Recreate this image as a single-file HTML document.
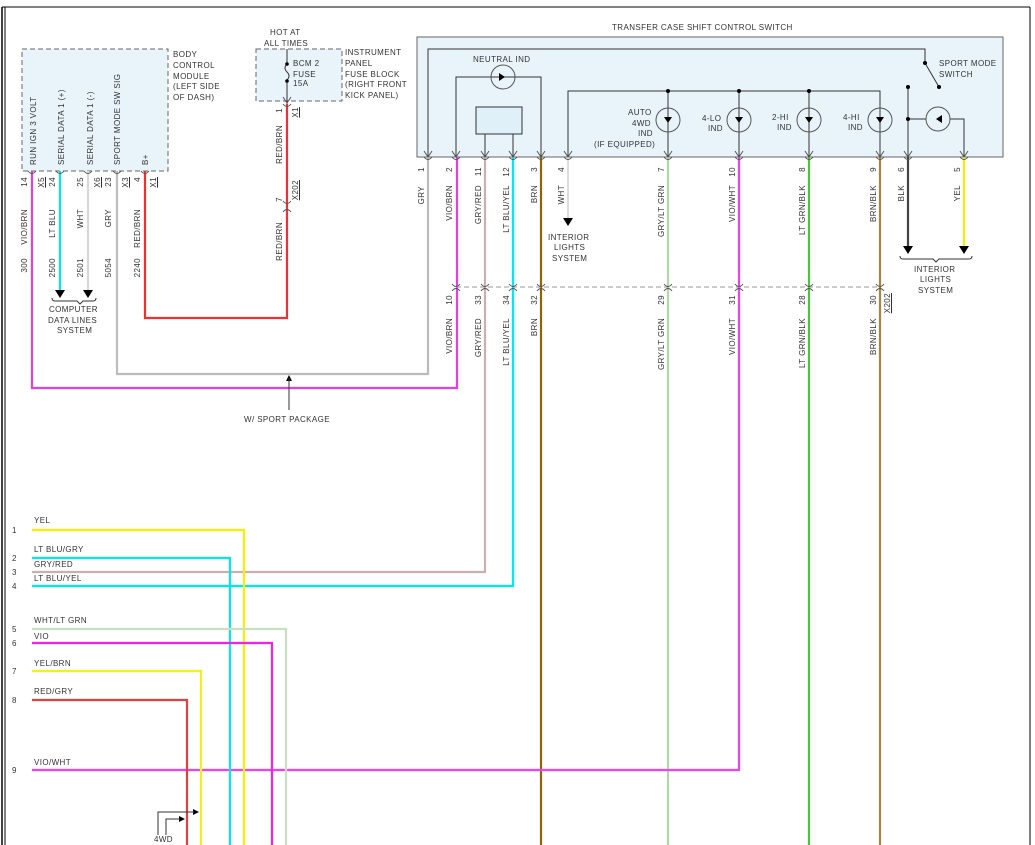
<!DOCTYPE html>
<html><head><meta charset="utf-8"><style>
html,body{margin:0;padding:0;background:#fff;}
svg{display:block;font-family:"Liberation Sans",sans-serif;}
text{fill:#333;font-size:8px;letter-spacing:0.4px;}
</style></head><body>
<svg width="1035" height="845" viewBox="0 0 1035 845" xmlns="http://www.w3.org/2000/svg">
<defs>
<marker id="ar" markerWidth="8" markerHeight="8" refX="4" refY="7" orient="auto" markerUnits="userSpaceOnUse"><path d="M0,0 L8,0 L4,8 z" fill="#000" transform="rotate(-90 4 4)"/></marker>
</defs>
<!-- border -->
<line x1="2" y1="7" x2="2" y2="845" stroke="#000" stroke-width="1.5"/>
<line x1="5" y1="7" x2="5" y2="845" stroke="#000" stroke-width="1"/>
<line x1="2" y1="7" x2="1030" y2="7" stroke="#000" stroke-width="1"/>
<line x1="1030" y1="7" x2="1030" y2="845" stroke="#000" stroke-width="1"/>

<!-- BCM box -->
<rect x="22" y="49" width="146" height="122" fill="#e8f4fa" stroke="#666" stroke-dasharray="5,3"/>
<text x="173" y="57">BODY</text><text x="173" y="68">CONTROL</text><text x="173" y="79">MODULE</text><text x="173" y="89">(LEFT SIDE</text><text x="173" y="100">OF DASH)</text>
<g text-anchor="start">
<text transform="translate(36,165) rotate(-90)">RUN IGN 3 VOLT</text>
<text transform="translate(64,165) rotate(-90)">SERIAL DATA 1 (+)</text>
<text transform="translate(93,165) rotate(-90)">SERIAL DATA 1 (-)</text>
<text transform="translate(120,165) rotate(-90)">SPORT MODE SW SIG</text>
<text transform="translate(148,165) rotate(-90)">B+</text>
</g>
<!-- Fuse box -->
<text x="270" y="35">HOT AT</text><text x="264" y="46">ALL TIMES</text>
<rect x="256" y="49" width="86" height="52" fill="#e8f4fa" stroke="#666" stroke-dasharray="5,3"/>
<text x="345" y="55">INSTRUMENT</text><text x="345" y="66">PANEL</text><text x="345" y="77">FUSE BLOCK</text><text x="345" y="87">(RIGHT FRONT</text><text x="345" y="98">KICK PANEL)</text>
<text x="293" y="66">BCM 2</text><text x="293" y="77">FUSE</text><text x="293" y="86">15A</text>
<line x1="287" y1="49" x2="287" y2="64" stroke="#333"/>
<path d="M287,64 q-4,4 0,8 q4,4 0,8" fill="none" stroke="#333"/>
<line x1="287" y1="80" x2="287" y2="104" stroke="#333"/>
<circle cx="287" cy="64" r="1.8" fill="#000"/><circle cx="287" cy="81" r="1.8" fill="#000"/>

<!-- TCSC box -->
<text x="612" y="30">TRANSFER CASE SHIFT CONTROL SWITCH</text>
<rect x="417" y="37" width="586" height="120" fill="#e8f4fa" stroke="#666"/>
<g stroke="#333" fill="none" stroke-width="1">
<polyline points="428,157 428,49 925,49 925,63"/>
<line x1="925" y1="63" x2="939" y2="87"/>
<polyline points="456,157 456,77 541,77 541,157"/>
<circle cx="503" cy="77" r="12" stroke="#555"/>
<rect x="476" y="107" width="46" height="27" fill="#dff0f8"/>
<line x1="485" y1="134" x2="485" y2="157"/><line x1="513" y1="134" x2="513" y2="157"/>
<polyline points="568,157 568,91 880,91 880,157"/>
<line x1="668" y1="91" x2="668" y2="157"/><line x1="739" y1="91" x2="739" y2="157"/><line x1="809" y1="91" x2="809" y2="157"/>
<circle cx="668" cy="120" r="12" stroke="#555"/><circle cx="739" cy="120" r="12" stroke="#555"/><circle cx="809" cy="120" r="12" stroke="#555"/><circle cx="880" cy="120" r="12" stroke="#555"/>
<line x1="908" y1="87" x2="908" y2="157"/>
<polyline points="908,119 964,119 964,157"/>
<circle cx="938" cy="119" r="12" stroke="#555" fill="#e8f4fa"/>
</g>
<g fill="#000">
<circle cx="925" cy="63" r="2"/><circle cx="939" cy="87" r="2"/><circle cx="908" cy="87" r="2"/><circle cx="908" cy="119" r="2"/>
<circle cx="668" cy="91" r="2"/><circle cx="739" cy="91" r="2"/><circle cx="809" cy="91" r="2"/>
<path d="M499,73 l6,4 l-6,4z M664,117 l8,0 l-4,6z M735,117 l8,0 l-4,6z M805,117 l8,0 l-4,6z M876,117 l8,0 l-4,6z M942,115 l-6,4 l6,4z"/>
</g>
<text x="473" y="62">NEUTRAL IND</text>
<text x="939" y="66">SPORT MODE</text><text x="939" y="77">SWITCH</text>
<text x="628" y="115">AUTO</text><text x="632" y="126">4WD</text><text x="638" y="136">IND</text><text x="594" y="147">(IF EQUIPPED)</text>
<text x="702" y="121">4-LO</text><text x="708" y="131">IND</text>
<text x="772" y="120">2-HI</text><text x="777" y="130">IND</text>
<text x="843" y="120">4-HI</text><text x="848" y="130">IND</text>

<!-- wires upper -->
<g fill="none" stroke-width="2.2">
<polyline points="32,171 32,388 457,388 457,157" stroke="#e040e0"/>
<line x1="60" y1="171" x2="60" y2="293" stroke="#00e8f0"/>
<line x1="88" y1="171" x2="88" y2="293" stroke="#d8d8d8"/>
<polyline points="117,171 117,374 428,374 428,157" stroke="#bbb"/>
<polyline points="145,171 145,318 287,318 287,104" stroke="#f03030"/>
<polyline points="485,157 485,572 32,572" stroke="#c8b0b0"/>
<polyline points="513,157 513,586 32,586" stroke="#00e8f0"/>
<line x1="541" y1="157" x2="541" y2="845" stroke="#8b6508"/>
<line x1="568" y1="157" x2="568" y2="222" stroke="#ddd"/>
<line x1="668" y1="157" x2="668" y2="845" stroke="#b0d8a8"/>
<polyline points="739,157 739,770 32,770" stroke="#f040f0"/>
<line x1="809" y1="157" x2="809" y2="845" stroke="#50c040"/>
<line x1="880" y1="157" x2="880" y2="845" stroke="#a88440"/>
<line x1="908" y1="157" x2="908" y2="250" stroke="#444"/>
<line x1="964" y1="157" x2="964" y2="250" stroke="#f0f000"/>
<!-- lower -->
<polyline points="32,530 244,530 244,845" stroke="#f8f000"/>
<polyline points="32,558 230,558 230,845" stroke="#00e8f0"/>
<polyline points="32,629 286,629 286,845" stroke="#c8e0c0"/>
<polyline points="32,643 272,643 272,845" stroke="#f020f0"/>
<polyline points="32,671 201,671 201,845" stroke="#f0f020"/>
<polyline points="32,700 187,700 187,845" stroke="#e04040"/>
</g>
<line x1="456" y1="287" x2="880" y2="287" stroke="#999" stroke-dasharray="5,3"/>
<!-- arrows -->
<g fill="#000">
<path d="M55,290 l10,0 l-5,8z M83,290 l10,0 l-5,8z M563,218 l10,0 l-5,8z M903,246 l10,0 l-5,8z M959,246 l10,0 l-5,8z"/>
<path d="M286,381 l6,0 l-3,-6z"/>
<path d="M193,809 l6,3 l-6,3z M179,816 l6,3 l-6,3z"/>
</g>
<g fill="none" stroke="#333">
<path d="M52,298 q0,3 3,3 h22 l3,3 l3,-3 h10 q3,0 3,-3"/>
<path d="M900,256 q0,3 3,3 h30 l3,3 l3,-3 h30 q3,0 3,-3"/>
<line x1="289" y1="378" x2="289" y2="410"/>
<polyline points="158,835 158,812 194,812"/><polyline points="166,835 166,819 180,819"/>
</g>
<!-- connector ticks -->
<g fill="none" stroke="#555">
<path d="M28,171 q4,5 8,0 M56,171 q4,5 8,0 M84,171 q4,5 8,0 M113,171 q4,5 8,0 M141,171 q4,5 8,0 M283,104 q4,5 8,0 M283,201 q4,5 8,0 M283,212 q4,-5 8,0"/>
<path d="M424,157 q4,5 8,0 M452,157 q4,5 8,0 M481,157 q4,5 8,0 M509,157 q4,5 8,0 M537,157 q4,5 8,0 M564,157 q4,5 8,0 M664,157 q4,5 8,0 M735,157 q4,5 8,0 M805,157 q4,5 8,0 M876,157 q4,5 8,0 M904,157 q4,5 8,0 M960,157 q4,5 8,0"/>
<path d="M452,284 q4,5 8,0 M481,284 q4,5 8,0 M509,284 q4,5 8,0 M537,284 q4,5 8,0 M664,284 q4,5 8,0 M735,284 q4,5 8,0 M805,284 q4,5 8,0 M876,284 q4,5 8,0"/>
<path d="M452,291 q4,-5 8,0 M481,291 q4,-5 8,0 M509,291 q4,-5 8,0 M537,291 q4,-5 8,0 M664,291 q4,-5 8,0 M735,291 q4,-5 8,0 M805,291 q4,-5 8,0 M876,291 q4,-5 8,0"/>
<path d="M424,151 l4,6 l4,-6 M452,151 l4,6 l4,-6 M481,151 l4,6 l4,-6 M509,151 l4,6 l4,-6 M537,151 l4,6 l4,-6 M564,151 l4,6 l4,-6 M664,151 l4,6 l4,-6 M735,151 l4,6 l4,-6 M805,151 l4,6 l4,-6 M876,151 l4,6 l4,-6 M904,151 l4,6 l4,-6 M960,151 l4,6 l4,-6 M283,97 l4,6 l4,-6"/>
</g>
<!-- BCM wire labels -->
<g text-anchor="end">
<text transform="translate(27,177) rotate(-90)">14</text><text transform="translate(55,177) rotate(-90)">24</text><text transform="translate(83,177) rotate(-90)">25</text><text transform="translate(111,177) rotate(-90)">23</text><text transform="translate(140,177) rotate(-90)">4</text>
<text transform="translate(27,209) rotate(-90)">VIO/BRN</text><text transform="translate(55,209) rotate(-90)">LT BLU</text><text transform="translate(83,209) rotate(-90)">WHT</text><text transform="translate(111,209) rotate(-90)">GRY</text><text transform="translate(140,209) rotate(-90)">RED/BRN</text>
<text transform="translate(27,258) rotate(-90)">300</text><text transform="translate(55,258) rotate(-90)">2500</text><text transform="translate(83,258) rotate(-90)">2501</text><text transform="translate(111,258) rotate(-90)">5054</text><text transform="translate(140,258) rotate(-90)">2240</text>
<text transform="translate(282,108) rotate(-90)">1</text><text transform="translate(282,125) rotate(-90)">RED/BRN</text>
<text transform="translate(282,197) rotate(-90)">7</text><text transform="translate(282,222) rotate(-90)">RED/BRN</text>
</g>
<g text-anchor="end" text-decoration="underline">
<text transform="translate(44,177) rotate(-90)">X5</text><text transform="translate(100,177) rotate(-90)">X6</text><text transform="translate(128,177) rotate(-90)">X3</text><text transform="translate(156,177) rotate(-90)">X1</text>
<text transform="translate(298,107) rotate(-90)">X1</text><text transform="translate(298,180) rotate(-90)">X202</text>
<text transform="translate(890,293) rotate(-90)">X202</text>
</g>
<text x="49" y="312">COMPUTER</text><text x="48" y="323">DATA LINES</text><text x="57" y="333">SYSTEM</text>
<text x="244" y="422">W/ SPORT PACKAGE</text>
<text x="548" y="240">INTERIOR</text><text x="554" y="250">LIGHTS</text><text x="552" y="261">SYSTEM</text>
<text x="914" y="272">INTERIOR</text><text x="920" y="282">LIGHTS</text><text x="918" y="293">SYSTEM</text>
<!-- TCSC wire labels -->
<g text-anchor="end">
<text transform="translate(424,167) rotate(-90)">1</text><text transform="translate(452,167) rotate(-90)">2</text><text transform="translate(481,167) rotate(-90)">11</text><text transform="translate(509,167) rotate(-90)">12</text><text transform="translate(537,167) rotate(-90)">3</text><text transform="translate(564,167) rotate(-90)">4</text><text transform="translate(664,167) rotate(-90)">7</text><text transform="translate(735,167) rotate(-90)">10</text><text transform="translate(805,167) rotate(-90)">8</text><text transform="translate(876,167) rotate(-90)">9</text><text transform="translate(904,167) rotate(-90)">6</text><text transform="translate(960,167) rotate(-90)">5</text>
<text transform="translate(424,186) rotate(-90)">GRY</text><text transform="translate(452,185) rotate(-90)">VIO/BRN</text><text transform="translate(481,185) rotate(-90)">GRY/RED</text><text transform="translate(509,185) rotate(-90)">LT BLU/YEL</text><text transform="translate(537,185) rotate(-90)">BRN</text><text transform="translate(564,185) rotate(-90)">WHT</text><text transform="translate(664,185) rotate(-90)">GRY/LT GRN</text><text transform="translate(735,185) rotate(-90)">VIO/WHT</text><text transform="translate(805,185) rotate(-90)">LT GRN/BLK</text><text transform="translate(876,185) rotate(-90)">BRN/BLK</text><text transform="translate(904,185) rotate(-90)">BLK</text><text transform="translate(960,185) rotate(-90)">YEL</text>
<text transform="translate(452,295) rotate(-90)">10</text><text transform="translate(481,295) rotate(-90)">33</text><text transform="translate(509,295) rotate(-90)">34</text><text transform="translate(537,295) rotate(-90)">32</text><text transform="translate(664,295) rotate(-90)">29</text><text transform="translate(735,295) rotate(-90)">31</text><text transform="translate(805,295) rotate(-90)">28</text><text transform="translate(876,295) rotate(-90)">30</text>
<text transform="translate(452,318) rotate(-90)">VIO/BRN</text><text transform="translate(481,318) rotate(-90)">GRY/RED</text><text transform="translate(509,318) rotate(-90)">LT BLU/YEL</text><text transform="translate(537,318) rotate(-90)">BRN</text><text transform="translate(664,318) rotate(-90)">GRY/LT GRN</text><text transform="translate(735,318) rotate(-90)">VIO/WHT</text><text transform="translate(805,318) rotate(-90)">LT GRN/BLK</text><text transform="translate(876,318) rotate(-90)">BRN/BLK</text>
</g>
<!-- lower labels -->
<g>
<text x="12" y="533">1</text><text x="34" y="523">YEL</text>
<text x="12" y="561">2</text><text x="34" y="552">LT BLU/GRY</text>
<text x="12" y="575">3</text><text x="34" y="567">GRY/RED</text>
<text x="12" y="589">4</text><text x="34" y="581">LT BLU/YEL</text>
<text x="12" y="632">5</text><text x="34" y="623">WHT/LT GRN</text>
<text x="12" y="646">6</text><text x="34" y="639">VIO</text>
<text x="12" y="674">7</text><text x="34" y="666">YEL/BRN</text>
<text x="12" y="703">8</text><text x="34" y="694">RED/GRY</text>
<text x="12" y="773">9</text><text x="34" y="765">VIO/WHT</text>
<text x="154" y="842">4WD</text>
</g>
</svg>
</body></html>
